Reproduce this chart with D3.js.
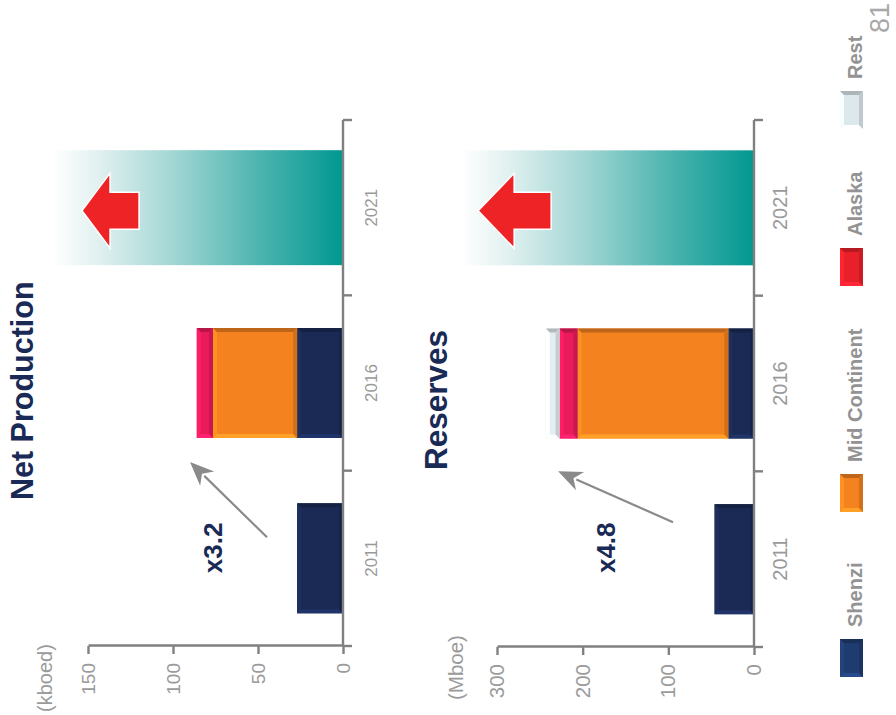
<!DOCTYPE html>
<html>
<head>
<meta charset="utf-8">
<script src="https://cdn.jsdelivr.net/npm/d3@7"></script>
<style>
  html, body { margin: 0; padding: 0; background: #ffffff; }
  svg { display: block; }
  text { font-family: "Liberation Sans", Arial, Helvetica, sans-serif; }
</style>
</head>
<body>
<svg id="chart" width="896" height="715"></svg>
<script>
// ---- data ----
const years = ["2011", "2016", "2021"];
const series = ["Shenzi", "Mid Continent", "Alaska", "Rest"];
const seriesColors = ["#1b2a55", "#f3821f", "#e91b5c", "#e4edf1"];
const legendColors = ["#1f3c70", "#f3821f", "#e8202a", "#dde8ed"];

// Net production (kboed), by year
const netShenzi = [27, 27, 0];
const netMidContinent = [0, 49.5, 0];
const netAlaska = [0, 9.5, 0];
const netRest = [0, 0, 0];
const netOutlook2021 = 171;
const netTicks = [0, 50, 100, 150];

// Reserves (Mboe), by year
const resShenzi = [46, 30, 0];
const resMidContinent = [0, 176, 0];
const resAlaska = [0, 21, 0];
const resRest = [0, 16, 0];
const resOutlook2021 = 341;
const resTicks = [0, 100, 200, 300];

const netGrowth = "x3.2";
const resGrowth = "x4.8";
const pageNumber = "81";

// ---- layout (page is drawn upright, then turned a quarter counter-clockwise) ----
const svg = d3.select("#chart");
const defs = svg.append("defs");
const root = svg.append("g").attr("transform", `translate(0,${715}) rotate(-90)`);

const grad = defs.append("linearGradient").attr("id", "outlook")
  .attr("x1", 0).attr("y1", 1).attr("x2", 0).attr("y2", 0);
grad.append("stop").attr("offset", "0%").attr("stop-color", "#009791");
grad.append("stop").attr("offset", "30%").attr("stop-color", "#4fb5b0");
grad.append("stop").attr("offset", "60%").attr("stop-color", "#a6d8d6");
grad.append("stop").attr("offset", "85%").attr("stop-color", "#e3f1f1");
grad.append("stop").attr("offset", "100%").attr("stop-color", "#ffffff");

const AXIS = "#808080";
const LABEL = "#9a9a9a";
const NAVY = "#1a2a56";

function bevelRect(g, x, y, w, h, color, b) {
  if (w <= 0 || h <= 0) return;
  b = Math.min(b, w / 2, h / 2);
  const c = d3.color(color);
  g.append("rect").attr("x", x).attr("y", y).attr("width", w).attr("height", h).attr("fill", color);
  const faces = [
    { pts: [[x, y], [x + w, y], [x + w - b, y + b], [x + b, y + b]], f: c.brighter(0.3) },
    { pts: [[x, y], [x + b, y + b], [x + b, y + h - b], [x, y + h]], f: c.brighter(0.6) },
    { pts: [[x + w, y], [x + w, y + h], [x + w - b, y + h - b], [x + w - b, y + b]], f: c.darker(0.7) },
    { pts: [[x, y + h], [x + b, y + h - b], [x + w - b, y + h - b], [x + w, y + h]], f: c.darker(0.4) }
  ];
  faces.forEach(fc => g.append("polygon")
    .attr("points", fc.pts.map(p => p.join(",")).join(" "))
    .attr("fill", fc.f.formatHex()));
}

const panels = [
  {
    title: "Net Production", unit: "(kboed)", ticks: netTicks,
    stacks: [netShenzi, netMidContinent, netAlaska, netRest],
    outlook: netOutlook2021, growth: netGrowth,
    base: 343, top: 88, max: 150, left: 69, right: 595,
    titleX: 215, titleY: 33, titleSize: 30.5,
    unitX: 3, unitY: 52, unitSize: 20,
    tickSize: 19, catSize: 17, catY: 377,
    arrowFrom: [0.62, 44.7], arrowTo: [1.05, 90],
    growthX: 0.56, growthY: 222,
    redTip: 153.5, headH: 28, bodyH: 29
  },
  {
    title: "Reserves", unit: "(Mboe)", ticks: resTicks,
    stacks: [resShenzi, resMidContinent, resAlaska, resRest],
    outlook: resOutlook2021, growth: resGrowth,
    base: 754, top: 497, max: 300, left: 68, right: 595,
    titleX: 245, titleY: 447, titleSize: 31.5,
    unitX: 15, unitY: 463, unitSize: 20.5,
    tickSize: 20.5, catSize: 20, catY: 787,
    arrowFrom: [0.71, 94.5], arrowTo: [1.0, 228.7],
    growthX: 0.565, growthY: 615,
    redTip: 322, headH: 36, bodyH: 37
  }
];

panels.forEach(p => {
  const g = root.append("g");
  const x = d3.scaleBand().domain(years).range([p.left, p.right]).padding(0);
  const y = d3.scaleLinear().domain([0, p.max]).range([p.base, p.top]);
  const step = x.step();
  const barW = 110;
  const posX = (frac) => p.left + frac * step;

  // outlook band for 2021
  const ow = 115;
  const oc = x("2021") + step / 2;
  g.append("rect")
    .attr("x", oc - ow / 2).attr("width", ow)
    .attr("y", y(p.outlook)).attr("height", y(0) - y(p.outlook) + 1)
    .attr("fill", "url(#outlook)");

  // red arrow pointing up, inside the outlook band
  const tipY = y(p.redTip);
  const headW = 75, bodyW = 37;
  const ac = oc - 3;
  const arrowPts = [
    [ac, tipY], [ac + headW / 2, tipY + p.headH], [ac + bodyW / 2, tipY + p.headH],
    [ac + bodyW / 2, tipY + p.headH + p.bodyH], [ac - bodyW / 2, tipY + p.headH + p.bodyH],
    [ac - bodyW / 2, tipY + p.headH], [ac - headW / 2, tipY + p.headH]
  ];
  g.append("polygon").attr("points", arrowPts.map(d => d.join(",")).join(" "))
    .attr("fill", "#ee2326").attr("stroke", "#ffffff").attr("stroke-width", 1.5);

  // stacked bars
  years.forEach((yr, i) => {
    let acc = 0;
    p.stacks.forEach((arr, s) => {
      const v = arr[i];
      if (!v) return;
      const y0 = y(acc), y1 = y(acc + v);
      bevelRect(g, x(yr) + step / 2 - barW / 2, y1, barW, y0 - y1, seriesColors[s], 4);
      acc += v;
    });
  });

  // value axis
  const yAxis = d3.axisLeft(y).tickValues(p.ticks).tickSize(8).tickSizeOuter(0).tickPadding(9);
  const ya = g.append("g").attr("transform", `translate(${p.left},0)`).call(yAxis);
  ya.select(".domain").attr("stroke", AXIS).attr("stroke-width", 2.4);
  ya.selectAll(".tick line").attr("stroke", AXIS).attr("stroke-width", 2.4);
  ya.selectAll(".tick text").attr("fill", LABEL).attr("font-size", p.tickSize)
    .attr("font-family", "Liberation Sans, Arial, sans-serif");

  // category axis
  g.append("line").attr("x1", p.left).attr("x2", p.right).attr("y1", p.base).attr("y2", p.base)
    .attr("stroke", AXIS).attr("stroke-width", 2.4);
  const edges = years.map(d => x(d)).concat([p.right]);
  g.selectAll(".cat-tick").data(edges).join("line")
    .attr("x1", d => d).attr("x2", d => d).attr("y1", p.base).attr("y2", p.base + 9)
    .attr("stroke", AXIS).attr("stroke-width", 2.4);
  g.selectAll(".cat-label").data(years).join("text")
    .attr("x", d => x(d) + step / 2).attr("y", p.catY)
    .attr("text-anchor", "middle").attr("fill", LABEL).attr("font-size", p.catSize)
    .text(d => d);

  // unit and title
  g.append("text").attr("x", p.unitX).attr("y", p.unitY).attr("fill", LABEL)
    .attr("font-size", p.unitSize).text(p.unit);
  g.append("text").attr("x", p.titleX).attr("y", p.titleY).attr("fill", NAVY)
    .attr("font-size", p.titleSize).attr("font-weight", "bold").text(p.title);

  // growth arrow and multiplier
  const ax0 = posX(p.arrowFrom[0]), ay0 = y(p.arrowFrom[1]);
  const ax1 = posX(p.arrowTo[0]), ay1 = y(p.arrowTo[1]);
  const ang = Math.atan2(ay1 - ay0, ax1 - ax0);
  const hl = 24, hw = 10;
  const bx = ax1 - hl * Math.cos(ang), by = ay1 - hl * Math.sin(ang);
  g.append("line").attr("x1", ax0).attr("y1", ay0).attr("x2", bx + 4 * Math.cos(ang)).attr("y2", by + 4 * Math.sin(ang))
    .attr("stroke", "#8a8a8a").attr("stroke-width", 2.2);
  g.append("polygon").attr("points", [
    [ax1, ay1],
    [bx + hw * Math.sin(ang), by - hw * Math.cos(ang)],
    [bx + 0.3 * hl * Math.cos(ang), by + 0.3 * hl * Math.sin(ang)],
    [bx - hw * Math.sin(ang), by + hw * Math.cos(ang)]
  ].map(d => d.join(",")).join(" ")).attr("fill", "#8a8a8a");
  g.append("text").attr("x", posX(p.growthX)).attr("y", p.growthY)
    .attr("text-anchor", "middle").attr("fill", NAVY).attr("font-size", 26)
    .attr("font-weight", "bold").text(p.growth);
});

// legend
const legendSlots = [38, 203, 429, 586];
const lg = root.append("g");
series.forEach((s, i) => {
  const lx = legendSlots[i];
  bevelRect(lg, lx, 840, 38, 23, legendColors[i], 4);
  lg.append("text").attr("x", lx + 50).attr("y", 862).attr("fill", "#939393")
    .attr("font-size", 20).attr("font-weight", "bold").text(s);
});

// page number
root.append("text").attr("x", 712).attr("y", 889).attr("text-anchor", "end")
  .attr("fill", "#a8a8a8").attr("font-size", 27).text(pageNumber);
</script>
</body>
</html>
